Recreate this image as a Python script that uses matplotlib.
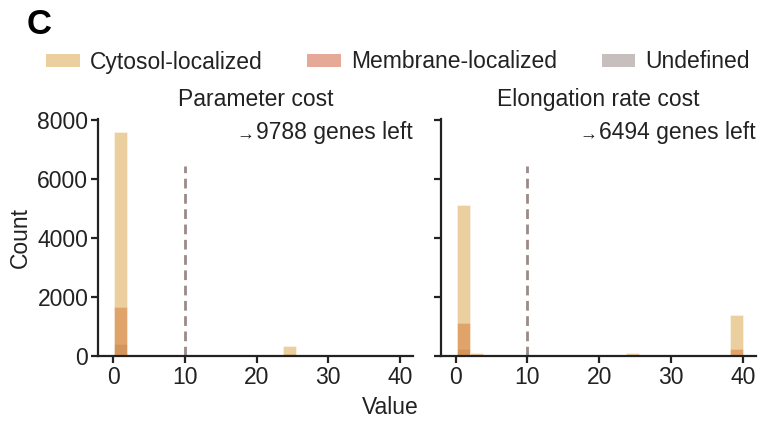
import numpy as np
import matplotlib
matplotlib.use("Agg")
import matplotlib.pyplot as plt
from matplotlib.patches import Patch
from matplotlib.offsetbox import TextArea, HPacker, AnchoredOffsetbox

plt.rcParams["font.family"] = ["Liberation Sans", "DejaVu Sans"]
plt.rcParams["font.size"] = 16.5

# histogram bins (bin centres), shared by both panels
bin_width = 1.81
bin_centers = [1.1, 2.9, 24.64, 39.1]

categories = ["Cytosol-localized", "Membrane-localized", "Undefined"]
colors = ["#DBA141", "#D15531", "#91817D"]

# counts per bin for each category
param_counts = {
    "Cytosol-localized": [7600, 0, 340, 0],
    "Membrane-localized": [1650, 0, 60, 0],
    "Undefined": [400, 0, 0, 0],
}
elong_counts = {
    "Cytosol-localized": [5130, 90, 110, 1380],
    "Membrane-localized": [1115, 0, 0, 240],
    "Undefined": [225, 0, 0, 20],
}

titles = ["Parameter cost", "Elongation rate cost"]
genes_left = [9788, 6494]
threshold = 10

fs = 16.5
ink = "#222222"

fig = plt.figure(figsize=(7.59, 4.24), dpi=100)
ax1 = fig.add_axes([0.1291, 0.1604, 0.415, 0.559])
ax2 = fig.add_axes([0.5806, 0.1604, 0.415, 0.559], sharey=ax1)

for ax, counts, title, n_left in zip([ax1, ax2], [param_counts, elong_counts],
                                     titles, genes_left):
    # layered: last category drawn first so cytosol sits on top
    for cat, col in list(zip(categories, colors))[::-1]:
        ax.bar(bin_centers, counts[cat], width=bin_width, color=col, alpha=0.5,
               edgecolor="white", linewidth=0.5)
    ax.axvline(threshold, ymax=0.8, color="#9B8A88", linestyle=(0, (3.5, 2)),
               linewidth=2)
    ax.set_xlim(-2.1, 41.8)
    ax.set_ylim(0, 8040)
    ax.set_xticks([0, 10, 20, 30, 40])
    ax.set_yticks([0, 2000, 4000, 6000, 8000])
    for s in ["top", "right"]:
        ax.spines[s].set_visible(False)
    for s in ["left", "bottom"]:
        ax.spines[s].set_linewidth(1.6)
        ax.spines[s].set_color(ink)
    ax.tick_params(length=5, width=1.6, color=ink, labelsize=fs,
                   labelcolor=ink, pad=2)
    ax.set_title(title, fontsize=fs, color=ink, pad=9)

    box = HPacker(children=[TextArea("→", textprops=dict(fontsize=13, color=ink)),
                            TextArea(f"{n_left} genes left",
                                     textprops=dict(fontsize=fs, color=ink))],
                  align="baseline", pad=0, sep=1)
    anchored = AnchoredOffsetbox(loc="upper right", child=box, frameon=False,
                                 bbox_to_anchor=(1.0, 0.99),
                                 bbox_transform=ax.transAxes, borderpad=0, pad=0)
    ax.add_artist(anchored)

ax2.tick_params(labelleft=False)
ax1.set_ylabel("Count", fontsize=fs, color=ink, labelpad=4)
fig.text(390 / 759, 1 - 408 / 424, "Value", ha="center", va="center",
         fontsize=fs, color=ink)

handles = [Patch(facecolor=c, alpha=0.5, edgecolor="none") for c in colors]
fig.legend(handles, categories, loc="center", ncol=3, frameon=False,
           bbox_to_anchor=(398 / 759, 1 - 62 / 424), handlelength=1.45,
           handleheight=0.5, handletextpad=0.45, columnspacing=1.95,
           fontsize=fs, labelcolor=ink, borderpad=0)

fig.text(27 / 759, 1 - 25 / 424, "C", fontsize=25, fontweight="bold",
         ha="left", va="center")

fig.savefig("out.png", dpi=100)
